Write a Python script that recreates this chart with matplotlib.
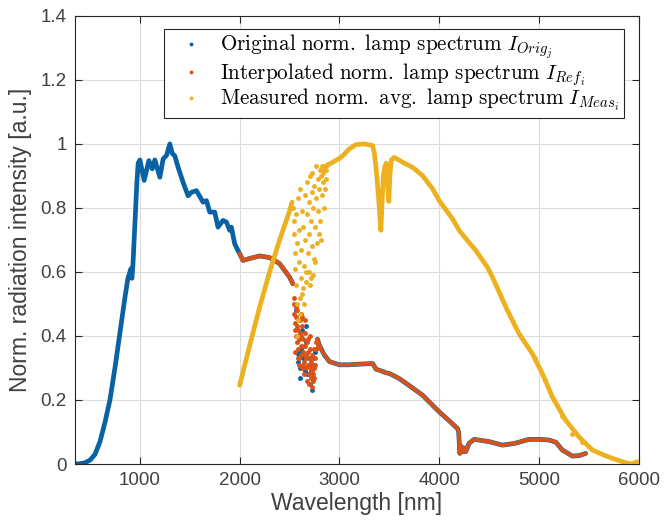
import matplotlib.pyplot as plt
import numpy as np

plt.rcParams['font.family'] = ['Liberation Sans', 'DejaVu Sans']
plt.rcParams['mathtext.fontset'] = 'cm'

c_blue = '#0862a3'
c_red = '#D95319'
c_orange = '#EDB120'

# original lamp spectrum (smooth part)
orig_x = [350, 400, 450, 500, 550, 600, 650, 700, 750, 800, 850, 880, 900, 910, 920, 930, 950,
          970, 983, 1000, 1043, 1090, 1123, 1150, 1200, 1233, 1267, 1300, 1325, 1350, 1383,
          1433, 1483, 1517, 1567, 1633, 1667, 1700, 1750, 1783, 1833, 1867, 1900, 1917, 1950,
          1983, 2000, 2033, 2100, 2200, 2300, 2400, 2500, 2533]
orig_y = [0.0, 0.001, 0.004, 0.012, 0.03, 0.07, 0.13, 0.2, 0.3, 0.41, 0.52, 0.58, 0.6, 0.61,
          0.58, 0.62, 0.75, 0.88, 0.94, 0.95, 0.886, 0.948, 0.922, 0.95, 0.896, 0.953, 0.964,
          1.0, 0.97, 0.963, 0.927, 0.88, 0.838, 0.849, 0.854, 0.818, 0.823, 0.787, 0.787, 0.74,
          0.761, 0.756, 0.73, 0.74, 0.688, 0.667, 0.657, 0.636, 0.642, 0.65, 0.645, 0.626,
          0.584, 0.563]

# interpolated reference spectrum
ref_x = [2000, 2033, 2100, 2200, 2300, 2350, 2400, 2450, 2500, 2533]
ref_y = [0.657, 0.636, 0.642, 0.65, 0.645, 0.637, 0.626, 0.606, 0.584, 0.563]
ref2_x = [2780, 2800, 2850, 2900, 3000, 3100, 3200, 3333, 3367, 3400, 3467, 3500, 3600, 3700,
          3833, 4000, 4100, 4183, 4195, 4207, 4222, 4240, 4255, 4267, 4300, 4350, 4500, 4633,
          4750, 4900, 5000, 5100, 5170, 5233, 5333, 5400, 5467]
ref2_y = [0.39, 0.37, 0.34, 0.32, 0.31, 0.31, 0.312, 0.314, 0.296, 0.293, 0.285, 0.283, 0.267,
          0.245, 0.215, 0.163, 0.135, 0.111, 0.1, 0.033, 0.055, 0.038, 0.05, 0.039, 0.065,
          0.077, 0.07, 0.059, 0.064, 0.077, 0.077, 0.075, 0.068, 0.044, 0.025, 0.026, 0.033]

# noisy region around 2550-2800 nm
ref_nx = [2540, 2545, 2550, 2555, 2560, 2565, 2570, 2575, 2580, 2585, 2590, 2595, 2600, 2605,
          2610, 2615, 2620, 2625, 2630, 2635, 2640, 2645, 2650, 2655, 2660, 2665, 2670, 2675,
          2680, 2685, 2690, 2695, 2700, 2705, 2710, 2715, 2720, 2725, 2730, 2735, 2740, 2745,
          2750, 2760, 2770, 2780, 2575, 2610, 2650, 2700, 2548, 2563, 2588, 2612, 2628, 2642,
          2668, 2688, 2712, 2738, 2755, 2765, 2790, 2558, 2598, 2632, 2722, 2748]
ref_ny = [0.50, 0.47, 0.44, 0.42, 0.46, 0.40, 0.38, 0.43, 0.36, 0.33, 0.31, 0.39, 0.45, 0.41,
          0.37, 0.34, 0.30, 0.43, 0.39, 0.35, 0.32, 0.28, 0.41, 0.37, 0.33, 0.30, 0.26, 0.38,
          0.35, 0.31, 0.28, 0.25, 0.36, 0.33, 0.30, 0.27, 0.34, 0.31, 0.29, 0.26, 0.33, 0.30,
          0.36, 0.33, 0.36, 0.38, 0.48, 0.47, 0.45, 0.40, 0.52, 0.49, 0.42, 0.40, 0.46, 0.37,
          0.34, 0.39, 0.32, 0.28, 0.31, 0.38, 0.37, 0.35, 0.33, 0.31, 0.24, 0.27]
orig_nx = [2560, 2575, 2590, 2600, 2605, 2620, 2635, 2650, 2660, 2675, 2690, 2700, 2710, 2720,
           2730, 2745, 2755, 2583, 2583, 2617, 2665]
orig_ny = [0.48, 0.40, 0.35, 0.30, 0.27, 0.42, 0.33, 0.29, 0.38, 0.28, 0.33, 0.25, 0.29, 0.23,
           0.27, 0.31, 0.35, 0.345, 0.32, 0.36, 0.43]

# measured spectrum
meas_x = [2000, 2100, 2200, 2300, 2400, 2500, 2525]
meas_y = [0.246, 0.37, 0.49, 0.6, 0.7, 0.79, 0.818]
meas2_x = [2880, 2900, 3000, 3033, 3100, 3167, 3250, 3333, 3350, 3365, 3380, 3400, 3415, 3425,
           3440, 3455, 3470, 3485, 3495, 3505, 3520, 3550, 3650, 3733, 3833, 3933, 4000, 4133,
           4200, 4267, 4367, 4483, 4533, 4683, 4800, 4933, 5033, 5133, 5267, 5400, 5533, 5650,
           5733, 5867, 5930, 5983]
meas2_y = [0.935, 0.937, 0.955, 0.963, 0.985, 0.998, 1.0, 0.995, 0.97, 0.93, 0.88, 0.8, 0.73,
           0.8, 0.9, 0.93, 0.94, 0.86, 0.82, 0.9, 0.95, 0.958, 0.94, 0.927, 0.901, 0.86, 0.823,
           0.766, 0.73, 0.704, 0.667, 0.615, 0.584, 0.48, 0.407, 0.345, 0.283, 0.21, 0.137,
           0.085, 0.044, 0.028, 0.018, 0.004, 0.0, 0.007]
meas_nx = [2530, 2540, 2545, 2550, 2555, 2560, 2565, 2570, 2575, 2585, 2590, 2595, 2600, 2600,
           2610, 2615, 2620, 2630, 2635, 2645, 2650, 2655, 2665, 2670, 2675, 2680, 2690, 2695,
           2700, 2710, 2715, 2720, 2725, 2730, 2735, 2745, 2750, 2760, 2765, 2770, 2780, 2785,
           2790, 2800, 2805, 2810, 2820, 2825, 2830, 2835, 2840, 2850, 2855, 2860, 2870, 2875,
           2580, 2605, 2640, 2700, 2760, 2575, 2620, 2660, 2690, 2740, 2795, 2815, 2845, 2865,
           4960, 5060, 5150, 5230, 5330, 5430]
meas_ny = [0.80, 0.76, 0.72, 0.66, 0.61, 0.78, 0.56, 0.69, 0.50, 0.83, 0.63, 0.73, 0.52, 0.86,
           0.58, 0.67, 0.79, 0.74, 0.55, 0.62, 0.84, 0.70, 0.60, 0.88, 0.78, 0.66, 0.82, 0.72,
           0.90, 0.58, 0.76, 0.85, 0.68, 0.91, 0.80, 0.64, 0.87, 0.74, 0.93, 0.83, 0.69, 0.89,
           0.79, 0.86, 0.92, 0.76, 0.90, 0.84, 0.93, 0.88, 0.91, 0.92, 0.86, 0.93, 0.92, 0.935,
           0.45, 0.47, 0.50, 0.56, 0.63, 0.40, 0.53, 0.57, 0.60, 0.59, 0.72, 0.70, 0.80, 0.89,
           0.33, 0.262, 0.2, 0.15, 0.095, 0.07]

labels = [r'$\mathrm{Original\ norm.\ lamp\ spectrum}\ I_{Orig_j}$',
          r'$\mathrm{Interpolated\ norm.\ lamp\ spectrum}\ I_{Ref_i}$',
          r'$\mathrm{Measured\ norm.\ avg.\ lamp\ spectrum}\ I_{Meas_i}$']

fig = plt.figure(figsize=(6.64, 5.30), dpi=100)
ax = fig.add_axes([0.113, 0.1245, 0.849, 0.8455])

ax.plot(orig_x, orig_y, '-', color=c_blue, lw=3.4, solid_capstyle='round')
ax.plot(ref2_x, ref2_y, '-', color=c_blue, lw=3.4, solid_capstyle='round')
ax.plot(orig_nx, orig_ny, '.', color=c_blue, ms=5, ls='none', label=labels[0])

ax.plot(ref_x, ref_y, '-', color=c_red, lw=3.0, solid_capstyle='round')
ax.plot(ref2_x, ref2_y, '-', color=c_red, lw=2.7, solid_capstyle='round')
ax.plot(ref_nx, ref_ny, '.', color=c_red, ms=5, ls='none', label=labels[1])

ax.plot(meas_x, meas_y, '-', color=c_orange, lw=3.4, solid_capstyle='round')
ax.plot(meas2_x, meas2_y, '-', color=c_orange, lw=3.4, solid_capstyle='round')
ax.plot(meas_nx, meas_ny, '.', color=c_orange, ms=5, ls='none', label=labels[2])

ax.set_xlim(350, 6000)
ax.set_ylim(0, 1.4)
ax.set_xticks([1000, 2000, 3000, 4000, 5000, 6000])
ax.set_yticks([0, 0.2, 0.4, 0.6, 0.8, 1.0, 1.2, 1.4])
ax.set_yticklabels(['0', '0.2', '0.4', '0.6', '0.8', '1', '1.2', '1.4'])
ax.tick_params(direction='in', length=5, width=0.8, colors='#262626', labelsize=13.5,
               top=True, right=True, pad=6)
ax.tick_params(labelcolor='#404040')
for s in ax.spines.values():
    s.set_color('#262626')
    s.set_linewidth(0.8)
ax.grid(True, color='#dcdcdc', lw=0.8)
ax.set_axisbelow(True)

ax.set_xlabel('Wavelength [nm]', fontsize=16.5, color='#404040', labelpad=2)
ax.set_ylabel('Norm. radiation intensity [a.u.]', fontsize=16.5, color='#404040', labelpad=6)

leg = ax.legend(loc='upper right', bbox_to_anchor=(0.973, 0.971), borderaxespad=0,
                fancybox=False, edgecolor='#262626', framealpha=1, markerscale=0.7,
                fontsize=15.2, handlelength=2.1, labelspacing=-0.02, borderpad=0.2,
                handletextpad=0.35)
leg.get_frame().set_linewidth(0.8)

plt.savefig('out.png', dpi=100)
